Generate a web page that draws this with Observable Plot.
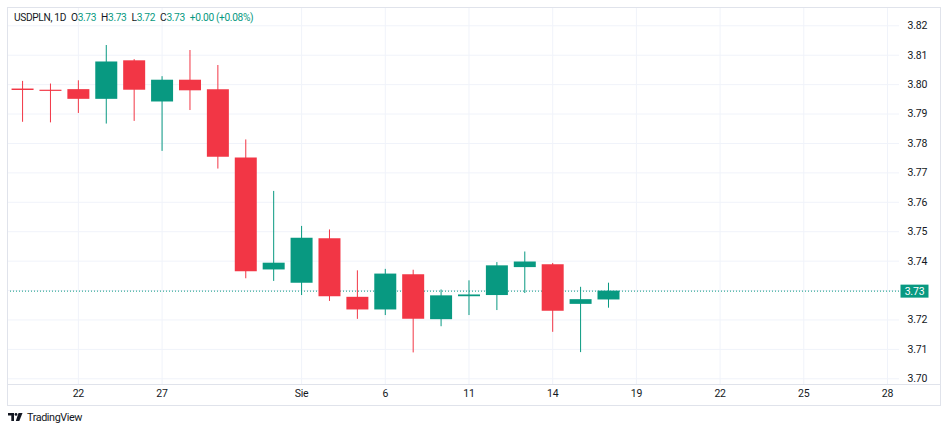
<!DOCTYPE html>
<html>
<head>
<meta charset="utf-8">
<script src="https://cdn.jsdelivr.net/npm/d3@7"></script>
<script src="https://cdn.jsdelivr.net/npm/@observablehq/plot@0.6"></script>
<style>
  html, body { margin: 0; padding: 0; background: #fff; overflow: hidden; }
  #wrap { position: relative; width: 948px; height: 433px; overflow: hidden; font-family: Roboto, "Liberation Sans", sans-serif; color: #131722; }
  #chart { position: absolute; left: 0; top: 0; }
  .border { position: absolute; left: 7px; top: 7px; width: 934px; height: 399px; box-sizing: border-box; border: 1px solid #e0e3eb; pointer-events: none; }
  .xline { position: absolute; left: 7px; top: 384px; width: 934px; height: 1px; background: #e0e3eb; pointer-events: none; }
  #header { position: absolute; left: 14px; top: 12px; font-size: 10.2px; letter-spacing: -0.35px; white-space: pre; display: flex; gap: 5px; }
  #header .v { color: #089981; }
  #logo { position: absolute; left: 8px; top: 411px; font-size: 10.8px; letter-spacing: -0.4px; display: flex; align-items: center; gap: 4px; }
</style>
</head>
<body>
<div id="wrap">
  <div id="chart"></div>
  <div class="xline"></div>
  <div class="border"></div>
  <div id="header"></div>
  <div id="logo">
    <svg width="15" height="9" viewBox="0 0 15 9"><path d="M0 0H6V8H3.3V2.6H0Z" fill="#131722"/><circle cx="8" cy="1.4" r="1.4" fill="#131722"/><path d="M10.5 0H14.5L11.3 8H7.8Z" fill="#131722"/></svg>
    <span>TradingView</span>
  </div>
</div>
<script>
const symbolName = "USDPLN, 1D";
const dates = ["2020-07-20","2020-07-21","2020-07-22","2020-07-23","2020-07-24","2020-07-27","2020-07-28","2020-07-29","2020-07-30","2020-07-31","2020-08-03","2020-08-04","2020-08-05","2020-08-06","2020-08-07","2020-08-10","2020-08-11","2020-08-12","2020-08-13","2020-08-14","2020-08-17","2020-08-18"];
const opens  = [3.7985,3.7981,3.7983,3.7950,3.8081,3.7941,3.8015,3.7983,3.7751,3.7370,3.7325,3.7476,3.7277,3.7234,3.7354,3.7201,3.7279,3.7283,3.7378,3.7388,3.7253,3.7268];
const highs  = [3.8011,3.8002,3.8013,3.8133,3.8085,3.8027,3.8116,3.8065,3.7812,3.7637,3.7518,3.7506,3.7367,3.7372,3.7369,3.7302,3.7333,3.7395,3.7431,3.7392,3.7311,3.7325];
const lows   = [3.7872,3.7870,3.7902,3.7866,3.7875,3.7773,3.7912,3.7713,3.7340,3.7331,3.7283,3.7263,3.7202,3.7215,3.7088,3.7177,3.7215,3.7232,3.7290,3.7158,3.7089,3.7240];
const closes = [3.7980,3.7977,3.7950,3.8077,3.7981,3.8015,3.7979,3.7753,3.7364,3.7393,3.7478,3.7279,3.7234,3.7356,3.7202,3.7282,3.7285,3.7384,3.7397,3.7230,3.7269,3.7298];
// x-axis ticks: bar index positions and their labels
const xTickIndex  = [2, 5, 10, 13, 16, 19, 22, 25, 28, 31];
const xTickLabels = ["22", "27", "Sie", "6", "11", "14", "19", "22", "25", "28"];
const yTicks = [3.70,3.71,3.72,3.73,3.74,3.75,3.76,3.77,3.78,3.79,3.80,3.81,3.82];

const UP = "#089981", DOWN = "#F23645";
const bars = dates.map((d, i) => ({i, date: d, open: opens[i], high: highs[i], low: lows[i], close: closes[i]}));
bars.forEach(b => b.color = b.close >= b.open ? UP : DOWN);
const last = bars[bars.length - 1];
const prev = bars[bars.length - 2];

const fmt = d3.format(".2f");
const labelOf = new Map(xTickIndex.map((t, k) => [t, xTickLabels[k]]));
// the price box covers the axis label at the last price's level
const yLabelTicks = yTicks.filter(t => fmt(t) !== fmt(last.close));

const boxSymbol = { draw(ctx) { ctx.rect(-14, -6.5, 28, 13); } };

const chart = Plot.plot({
  width: 948,
  height: 410,
  marginTop: 7,
  marginBottom: 26,
  marginLeft: 7,
  marginRight: 49,
  style: { fontFamily: "Roboto, 'Liberation Sans', sans-serif", fontSize: "10.5px", letterSpacing: "-0.2px", color: "#131722", background: "transparent" },
  x: { type: "linear", domain: [-0.54, 31.43], label: null },
  y: { domain: [3.69806, 3.82622], label: null },
  marks: [
    Plot.gridY(yTicks, { stroke: "#f0f3fa", strokeOpacity: 1 }),
    Plot.gridX(xTickIndex, { stroke: "#f0f3fa", strokeOpacity: 1 }),
    Plot.axisY({ anchor: "right", ticks: yLabelTicks, tickSize: 0, tickPadding: 8, tickFormat: fmt, fill: "#131722", label: null }),
    Plot.axisX({ ticks: xTickIndex, tickSize: 0, tickPadding: 5, tickFormat: d => labelOf.get(d), fill: "#131722", label: null }),
    Plot.ruleY([last.close], { stroke: UP, strokeDasharray: "1,2", strokeWidth: 1 }),
    Plot.ruleX(bars, { x: "i", y1: "low", y2: "high", stroke: "color", strokeWidth: 1 }),
    Plot.ruleX(bars, { x: "i", y1: "open", y2: "close", stroke: "color", strokeWidth: 22 }),
    Plot.dot([last], { y: "close", frameAnchor: "right", dx: 15, symbol: boxSymbol, fill: UP, stroke: "none" }),
    Plot.text([last], { y: "close", frameAnchor: "right", dx: 15, text: d => fmt(d.close), fill: "white", textAnchor: "middle", fontSize: 10.5 })
  ]
});
document.getElementById("chart").appendChild(chart);

const change = last.close - prev.close;
const pct = change / prev.close * 100;
const sign = v => (v >= 0 ? "+" : "");
document.getElementById("header").innerHTML =
  `<span>${symbolName}</span>` +
  `<span>O<span class="v">${fmt(last.open)}</span></span>` +
  `<span>H<span class="v">${fmt(last.high)}</span></span>` +
  `<span>L<span class="v">${fmt(last.low)}</span></span>` +
  `<span>C<span class="v">${fmt(last.close)}</span></span>` +
  `<span class="v">${sign(change)}${fmt(change)} (${sign(pct)}${fmt(pct)}%)</span>`;
</script>
</body>
</html>
